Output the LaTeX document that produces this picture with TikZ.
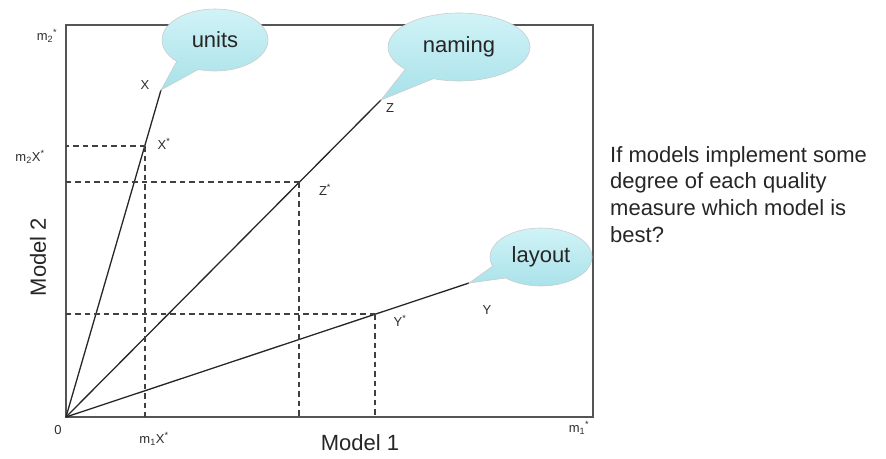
\documentclass[tikz,border=0pt]{standalone}
\usepackage{fontspec}
\setmainfont{Liberation Sans}
\usetikzlibrary{shapes.callouts}
\definecolor{bubtop}{RGB}{208,243,247}
\definecolor{bubbot}{RGB}{168,225,233}
\definecolor{axisgray}{RGB}{85,85,85}
\definecolor{labelgray}{RGB}{45,45,45}

\begin{document}
\begin{tikzpicture}[x=1pt,y=-1pt,
  frame/.style={draw=axisgray, line width=1.5pt},
  ray/.style={draw=black!85, line width=1.3pt},
  guide/.style={draw=black!75, line width=1.2pt, dash pattern=on 5.5pt off 4pt},
  tick/.style={font=\fontsize{13}{15}\selectfont, text=labelgray, inner sep=1pt},
  ptlabel/.style={font=\fontsize{13}{15}\selectfont, text=labelgray, inner sep=1pt},
  axislabel/.style={font=\fontsize{22}{26}\selectfont, text=black!85, inner sep=0pt},
  bubble/.style={ellipse callout, top color=bubtop, bottom color=bubbot,
    draw=gray!40, line width=0.6pt, font=\fontsize{22}{25}\selectfont,
    text=black!85, inner sep=0pt, callout pointer arc=28}
]
\useasboundingbox (0,0) rectangle (886,458);

% axes frame
\coordinate (O) at (66,417);
\coordinate (TR) at (593,25);
\draw[frame] (O) rectangle (TR);

% measure rays and their starred points
\coordinate (Xe) at (161,90);
\coordinate (Xs) at (145,146);
\coordinate (Ze) at (381,100);
\coordinate (Zs) at (299,182);
\coordinate (Ye) at (469,283);
\coordinate (Ys) at (375,314);

\draw[ray] (O) -- (Xe);
\draw[ray] (O) -- (Ze);
\draw[ray] (O) -- (Ye);

% projections onto the axes
\draw[guide] (Xs) -- (Xs -| O);
\draw[guide] (Xs) -- (Xs |- O);
\draw[guide] (Zs) -- (Zs -| O);
\draw[guide] (Zs) -- (Zs |- O);
\draw[guide] (Ys) -- (Ys -| O);
\draw[guide] (Ys) -- (Ys |- O);

% point labels
\node[ptlabel] (lX) at (145,85) {X};
\node[ptlabel] (lXs) at (164,144) {X\textsuperscript{*}};
\node[ptlabel] (lZ) at (390,108) {Z};
\node[ptlabel] (lZs) at (325,190) {Z\textsuperscript{*}};
\node[ptlabel] (lY) at (487,310) {Y};
\node[ptlabel] (lYs) at (400,321) {Y\textsuperscript{*}};

% axis ticks
\node[tick] (m2) at (47,36) {m\textsubscript{2}\textsuperscript{*}};
\node[tick] (m2x) at (30,157) {m\textsubscript{2}X\textsuperscript{*}};
\node[tick] (zero) at (58,430) {0};
\node[tick] (m1x) at (154,439) {m\textsubscript{1}X\textsuperscript{*}};
\node[tick] (m1) at (579,428) {m\textsubscript{1}\textsuperscript{*}};

% axis titles
\node[axislabel] (ax1) at (360,443) {Model 1};
\node[axislabel, rotate=90] (ax2) at (38,257) {Model 2};

% quality measure callouts
\node[bubble, minimum width=106pt, minimum height=62pt,
  callout absolute pointer={(Xe)}] (units) at (215,40) {units};
\node[bubble, minimum width=142pt, minimum height=68pt,
  callout absolute pointer={(Ze)}] (naming) at (459,47) {naming};
\node[bubble, minimum width=102pt, minimum height=58pt,
  callout absolute pointer={(Ye)}] (layout) at (541,257) {layout};

% question
\node[anchor=north west, align=left, inner sep=0pt, text=black!85,
  font=\fontsize{22}{26.7}\selectfont] (question) at (610,146)
  {If models implement some\\degree of each quality\\measure which model is\\best?};
\end{tikzpicture}
\end{document}
